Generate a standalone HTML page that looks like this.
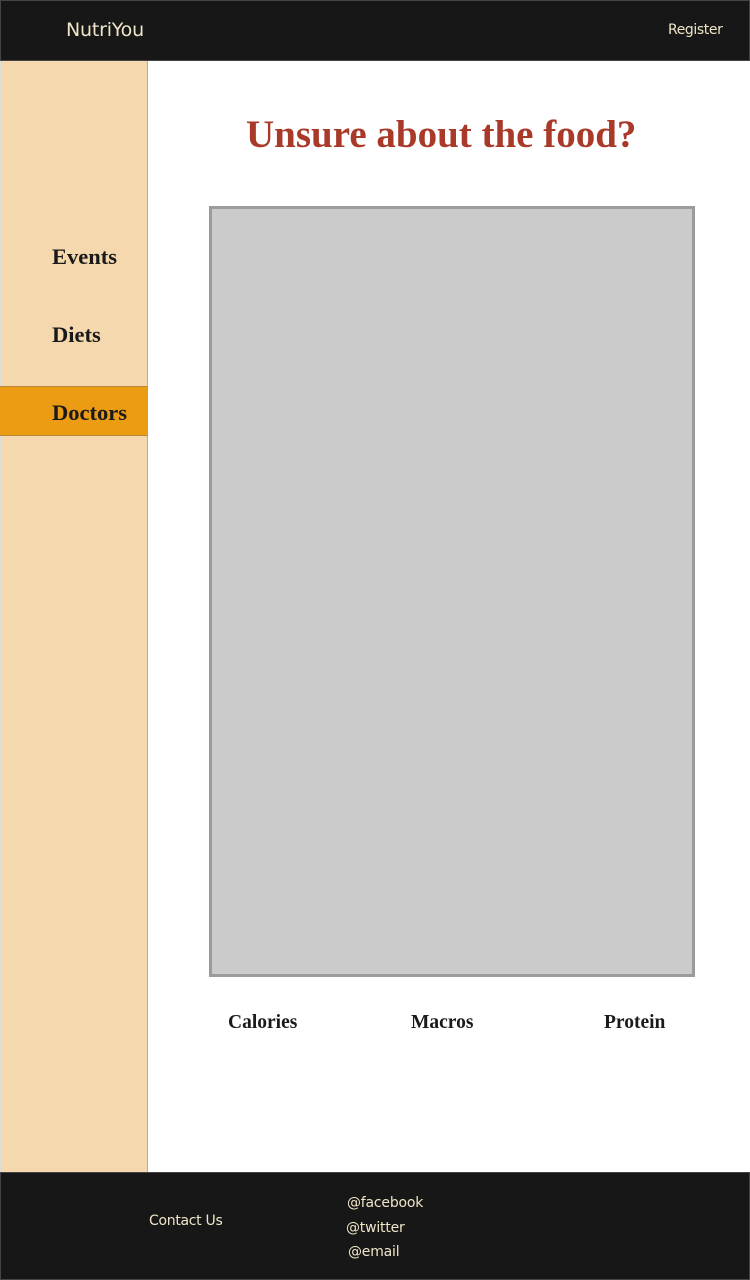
<!DOCTYPE html>
<html><head><style>
body{margin:0;width:750px;height:1280px;position:relative;background:#fff;font-family:"Liberation Serif",serif;overflow:hidden}
.a{position:absolute}
.hdr{left:0;top:0;width:750px;height:61px;background:#171717;border:1px solid #444;box-sizing:border-box}
.s{font-family:"DejaVu Sans","Liberation Sans",sans-serif;color:#efe6c8}
.side{left:0;top:61px;width:148px;height:1111px;background:#f5d8ad;border-right:1px solid #c9a67a;border-left:1px solid #ddd;box-sizing:border-box}
.nav{font-weight:bold;font-size:22.5px;color:#1a1a1a;left:52px}
.lab{font-weight:bold;font-size:19.5px;color:#1a1a1a;top:1012px}
</style></head><body>
<div class="a hdr"></div>
<div class="a s" style="left:66px;top:19px;font-size:19px;letter-spacing:-0.2px">NutriYou</div>
<div class="a s" style="left:668px;top:22px;font-size:14px;letter-spacing:-0.4px">Register</div>
<div class="a side"></div>
<div class="a nav" style="top:244px">Events</div>
<div class="a nav" style="top:322px">Diets</div>
<div class="a" style="left:0;top:386px;width:148px;height:50px;background:#ec9c12;border-top:1px solid #b8893e;border-bottom:1px solid #b8893e;box-sizing:border-box"></div>
<div class="a nav" style="top:400px">Doctors</div>
<div class="a" style="left:246px;top:112px;font-size:39px;font-weight:bold;color:#a93a2a">Unsure about the food?</div>
<div class="a" style="left:209px;top:206px;width:486px;height:771px;background:#cbcbcb;border:3px solid #9c9c9c;box-sizing:border-box"></div>
<div class="a lab" style="left:228px">Calories</div>
<div class="a lab" style="left:411px">Macros</div>
<div class="a lab" style="left:604px">Protein</div>
<div class="a" style="left:0;top:1172px;width:750px;height:108px;background:#171717;border:1px solid #444;box-sizing:border-box"></div>
<div class="a s" style="left:149px;top:1213px;font-size:14px;letter-spacing:-0.3px">Contact Us</div>
<div class="a s" style="left:347px;top:1195px;font-size:14px;letter-spacing:-0.2px">@facebook</div>
<div class="a s" style="left:346px;top:1220px;font-size:14px;letter-spacing:-0.2px">@twitter</div>
<div class="a s" style="left:348px;top:1244px;font-size:14px;letter-spacing:-0.2px">@email</div>
</body></html>
